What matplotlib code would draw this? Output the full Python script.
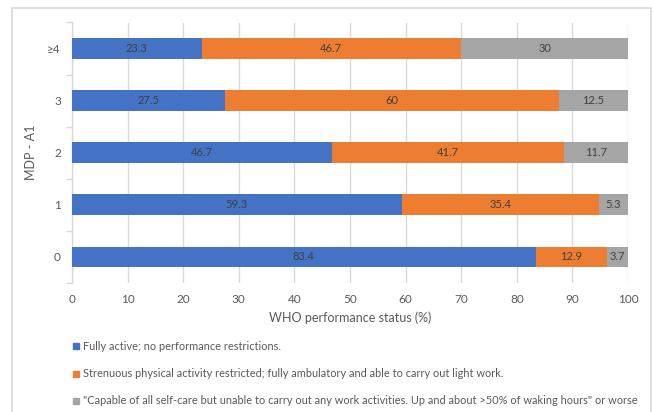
import numpy as np
import matplotlib.pyplot as plt
from matplotlib.patches import Rectangle

plt.rcParams['font.family'] = ['Lato', 'DejaVu Sans']

# MDP-A1 score groups, bottom to top
groups = ['0', '1', '2', '3', '≥4']
fully_active = [83.4, 59.3, 46.7, 27.5, 23.3]
restricted = [12.9, 35.4, 41.7, 60, 46.7]
self_care = [3.7, 5.3, 11.7, 12.5, 30]

series = [
    (fully_active, '#4472C4', 'Fully active; no performance restrictions.'),
    (restricted, '#ED7D31', 'Strenuous physical activity restricted; fully ambulatory and able to carry out light work.'),
    (self_care, '#A5A5A5', '"Capable of all self-care but unable to carry out any work activities. Up and about >50% of waking hours" or worse'),
]

txt = '#595959'
grid_c = '#D9D9D9'

fig = plt.figure(figsize=(6.54, 4.12), dpi=100)
fig.patches.append(Rectangle((12 / 654, -0.01), (651 - 12) / 654, 1 - 8 / 412 + 0.01,
                             transform=fig.transFigure, fill=False,
                             edgecolor=grid_c, linewidth=1.2))

ax = fig.add_axes([72 / 654, 1 - 283 / 412, (628 - 72) / 654, (283 - 22.5) / 412])

y = np.arange(len(groups))
left = np.zeros(len(groups))
for vals, color, label in series:
    vals = np.array(vals, dtype=float)
    ax.barh(y, vals, left=left, height=0.4, color=color, zorder=3)
    for yi, l, v in zip(y, left, vals):
        ax.text(l + v / 2, yi, f'{v:g}', ha='center', va='center',
                fontsize=8, color='#404040', zorder=4)
    left += vals

ax.set_xlim(0, 100)
ax.set_ylim(-0.5, 4.5)
ax.set_xticks(np.arange(0, 101, 10))
ax.set_yticks(y)
ax.set_yticklabels(groups)
ax.set_yticks(np.arange(-0.5, 4.6, 1), minor=True)
ax.tick_params(axis='y', which='major', length=0, pad=8, labelsize=8.5, labelcolor=txt)
ax.tick_params(axis='y', which='minor', length=4, color=grid_c, width=1)
ax.tick_params(axis='x', length=0, pad=8, labelsize=8.5, labelcolor=txt)
ax.grid(axis='x', color=grid_c, linewidth=1, zorder=0)
for s in ['top', 'right', 'bottom']:
    ax.spines[s].set_visible(False)
ax.spines['left'].set_color(grid_c)
ax.spines['left'].set_linewidth(1)

ax.set_xlabel('WHO performance status (%)', fontsize=9, color=txt)
ax.set_ylabel('MDP - A1', fontsize=9, color=txt)
ax.xaxis.set_label_coords(0.5, -(318 - 283) / 260.5, transform=ax.transAxes)
ax.xaxis.label.set_va('center')
ax.yaxis.set_label_coords(-(72 - 31) / 556, 0.5)
ax.yaxis.label.set_va('center')

# legend, one entry per row
for i, (vals, color, label) in enumerate(series):
    yy = 1 - (346 + i * 27.5) / 412
    fig.patches.append(Rectangle((73 / 654, yy - 3 / 412), 6 / 654, 6 / 412,
                                 transform=fig.transFigure, color=color))
    fig.text(83 / 654, yy, label, fontsize=7.9, color=txt, va='center', ha='left')

fig.savefig('out.png', dpi=100)
